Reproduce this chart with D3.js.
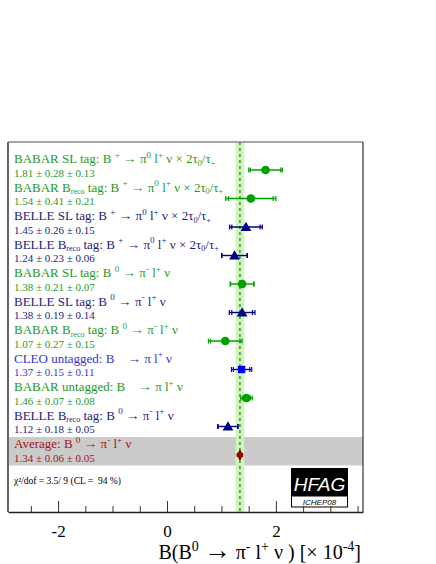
<!DOCTYPE html>
<html>
<head>
<meta charset="utf-8">
<script src="https://cdn.jsdelivr.net/npm/d3@7"></script>
<style>
  body { margin: 0; background: #fff; }
  svg { display: block; }
</style>
</head>
<body>
<div id="main"></div>
<script>
// measurements, top to bottom; the last one is the average
const labels = [
  "BABAR SL tag: B ^{+} → π^{0} l^{+} ν × 2τ_{0}/τ_{+}",
  "BABAR B_{reco} tag: B ^{+} → π^{0} l^{+} ν × 2τ_{0}/τ_{+}",
  "BELLE SL tag: B ^{+} → π^{0} l^{+} ν × 2τ_{0}/τ_{+}",
  "BELLE B_{reco} tag: B ^{+} → π^{0} l^{+} ν × 2τ_{0}/τ_{+}",
  "BABAR SL tag: B ^{0} → π^{-} l^{+} ν",
  "BELLE SL tag: B ^{0} → π^{-} l^{+} ν",
  "BABAR B_{reco} tag: B ^{0} → π^{-} l^{+} ν",
  "CLEO untagged: B    → π l^{+} ν",
  "BABAR untagged: B    → π l^{+} ν",
  "BELLE B_{reco} tag: B ^{0} → π^{-} l^{+} ν",
  "Average: B ^{0} → π^{-} l^{+} ν"
];
const experiments = ["BABAR", "BABAR", "BELLE", "BELLE", "BABAR", "BELLE", "BABAR", "CLEO", "BABAR", "BELLE", "Average"];
const values = [1.81, 1.54, 1.45, 1.24, 1.38, 1.38, 1.07, 1.37, 1.46, 1.12, 1.34];
const statErr = [0.28, 0.41, 0.26, 0.23, 0.21, 0.19, 0.27, 0.15, 0.07, 0.18, 0.06];
const systErr = [0.13, 0.21, 0.15, 0.06, 0.07, 0.14, 0.15, 0.11, 0.08, 0.05, 0.05];

const majorTicks = [-2, 0, 2];
const minorTicks = [-2.5, -1.5, -1, -0.5, 0.5, 1, 1.5, 2.5, 3, 3.5];
const chi2Text = "χ²/dof = 3.5/ 9 (CL =  94 %)";

const styles = {
  BABAR: { text: "#1f9a1f", mark: "#00a000", shape: d3.symbolCircle, size: 60 },
  BELLE: { text: "#1c1c7c", mark: "#000080", shape: d3.symbolTriangle, size: 50 },
  CLEO: { text: "#3535cc", mark: "#0000f0", shape: d3.symbolSquare, size: 55 },
  Average: { text: "#a01515", mark: "#a00000", shape: d3.symbolDiamond, size: 40 }
};

const width = 436;
const height = 564;
const fLeft = 8, fRight = 363, fTop = 142, fBottom = 512;
const serif = "'Liberation Serif', 'DejaVu Serif', serif";

const x = d3.scaleLinear().domain([-2.92, 3.6]).range([fLeft, fRight]);
const y = d3.scalePoint().domain(d3.range(values.length)).range([170, 455]);
const step = y.step();

const svg = d3.select("#main").append("svg").attr("width", width).attr("height", height);
svg.append("rect").attr("width", width).attr("height", height).attr("fill", "#fff");

// average row background
const nAvg = values.length - 1;
svg.append("rect")
  .attr("x", fLeft).attr("y", y(nAvg) - 18)
  .attr("width", fRight - fLeft).attr("height", step)
  .attr("fill", "#cbcbcb");

// average band
const avg = values[nAvg];
const avgErr = Math.sqrt(statErr[nAvg] ** 2 + systErr[nAvg] ** 2);
svg.append("rect")
  .attr("x", x(avg - avgErr)).attr("y", fTop)
  .attr("width", x(avg + avgErr) - x(avg - avgErr)).attr("height", fBottom - fTop)
  .attr("fill", "#ccf7b8");
svg.append("line")
  .attr("x1", x(avg)).attr("x2", x(avg)).attr("y1", fTop).attr("y2", fBottom)
  .attr("stroke", "#2e6b2e").attr("stroke-width", 1.2).attr("stroke-dasharray", "3,3");

// labels with ^{} and _{} markup
const addRich = (sel, str, size, arrowScale) => {
  const parts = str.split(/([\^_]\{[^}]*\}|→)/).filter((p) => p !== "");
  let shift = 0;
  parts.forEach((p) => {
    let t = p, s = 0, fs = size;
    if (p.startsWith("^{")) { t = p.slice(2, -1); s = -0.42 * size; fs = size * 0.7; }
    else if (p.startsWith("_{")) { t = p.slice(2, -1); s = 0.22 * size; fs = size * 0.62; }
    else if (p === "→") { fs = size * arrowScale; }
    sel.append("tspan")
      .attr("dy", s - shift)
      .attr("font-size", fs)
      .style("white-space", "pre")
      .text(t);
    shift = s;
  });
};

const rows = svg.selectAll("g.row").data(values).enter().append("g").attr("class", "row");

rows.each(function (v, i) {
  const g = d3.select(this);
  const st = styles[experiments[i]];
  const t = g.append("text")
    .attr("x", 14).attr("y", y(i) - 7)
    .attr("font-family", serif).attr("font-size", 13)
    .attr("fill", st.text)
    .style("white-space", "pre");
  addRich(t, labels[i], 13, 1.05);
  g.append("text")
    .attr("x", 14).attr("y", y(i) + 6.5)
    .attr("font-family", serif).attr("font-size", 11)
    .attr("fill", st.text)
    .text(`${v.toFixed(2)} ± ${statErr[i].toFixed(2)} ± ${systErr[i].toFixed(2)}`);

  const tot = Math.sqrt(statErr[i] ** 2 + systErr[i] ** 2);
  const lw = i === nAvg ? 4 : 1.4;
  const lo = i === nAvg ? v - statErr[i] : v - tot;
  const hi = i === nAvg ? v + statErr[i] : v + tot;
  g.append("line")
    .attr("x1", x(lo)).attr("x2", x(hi))
    .attr("y1", y(i)).attr("y2", y(i))
    .attr("stroke", st.mark).attr("stroke-width", lw);
  if (i !== nAvg) {
    [v - tot, v - statErr[i], v + statErr[i], v + tot].forEach((e) => {
      g.append("line")
        .attr("x1", x(e)).attr("x2", x(e))
        .attr("y1", y(i) - 2.5).attr("y2", y(i) + 2.5)
        .attr("stroke", st.mark).attr("stroke-width", 1.2);
    });
  }
  g.append("path")
    .attr("transform", `translate(${x(v)},${y(i) + (st.shape === d3.symbolTriangle ? 1 : 0)})`)
    .attr("d", d3.symbol().type(st.shape).size(st.size)())
    .attr("fill", st.mark);
});

// chi2
svg.append("text")
  .attr("x", 14).attr("y", 484)
  .attr("font-family", serif).attr("font-size", 9.5)
  .attr("fill", "#000")
  .style("white-space", "pre")
  .text(chi2Text);

// HFAG logo
svg.append("rect").attr("x", 291).attr("y", 468).attr("width", 57).attr("height", 28).attr("fill", "#000");
svg.append("rect").attr("x", 291.5).attr("y", 496).attr("width", 56).attr("height", 11)
  .attr("fill", "#fff").attr("stroke", "#000").attr("stroke-width", 1);
svg.append("text").attr("x", 319.5).attr("y", 491)
  .attr("text-anchor", "middle").attr("font-family", "'Liberation Sans', Arial, sans-serif")
  .attr("font-style", "italic").attr("font-size", 19).attr("fill", "#fff").text("HFAG");
svg.append("text").attr("x", 319.5).attr("y", 505)
  .attr("text-anchor", "middle").attr("font-family", "'Liberation Sans', Arial, sans-serif")
  .attr("font-style", "italic").attr("font-size", 8).attr("fill", "#000").text("ICHEP08");

// frame
svg.append("line").attr("x1", fLeft).attr("x2", fRight).attr("y1", fTop).attr("y2", fTop)
  .attr("stroke", "#888").attr("stroke-width", 1.5);
svg.append("line").attr("x1", fLeft).attr("x2", fLeft).attr("y1", fTop).attr("y2", fBottom)
  .attr("stroke", "#666").attr("stroke-width", 2);
svg.append("line").attr("x1", fRight).attr("x2", fRight).attr("y1", fTop).attr("y2", fBottom)
  .attr("stroke", "#333").attr("stroke-width", 1.2);

// x axis: minor then major ticks, drawn inward
svg.append("g")
  .attr("transform", `translate(0,${fBottom})`)
  .call(d3.axisBottom(x).tickValues(minorTicks).tickSize(-6).tickFormat(""))
  .call((g) => g.select(".domain").remove())
  .call((g) => g.selectAll(".tick line").attr("stroke", "#333"));
svg.append("g")
  .attr("transform", `translate(0,${fBottom})`)
  .call(d3.axisBottom(x).tickValues(majorTicks).tickSizeInner(-11).tickSizeOuter(0).tickPadding(13).tickFormat(d3.format("d")))
  .call((g) => g.select(".domain").attr("stroke", "#222").attr("stroke-width", 1.5))
  .call((g) => g.selectAll(".tick line").attr("stroke", "#333"))
  .call((g) => g.selectAll(".tick text")
    .attr("font-family", serif).attr("font-size", 17).attr("fill", "#000")
    .text((d) => (d < 0 ? "-" + Math.abs(d) : d)));

// axis title
const title = svg.append("text")
  .attr("x", 361).attr("y", 559)
  .attr("text-anchor", "end")
  .attr("font-family", serif).attr("font-size", 20)
  .attr("fill", "#000");
addRich(title, "B(B^{0} → π^{-} l^{+} ν ) [× 10^{-4}]", 20, 1.35);
</script>
</body>
</html>
